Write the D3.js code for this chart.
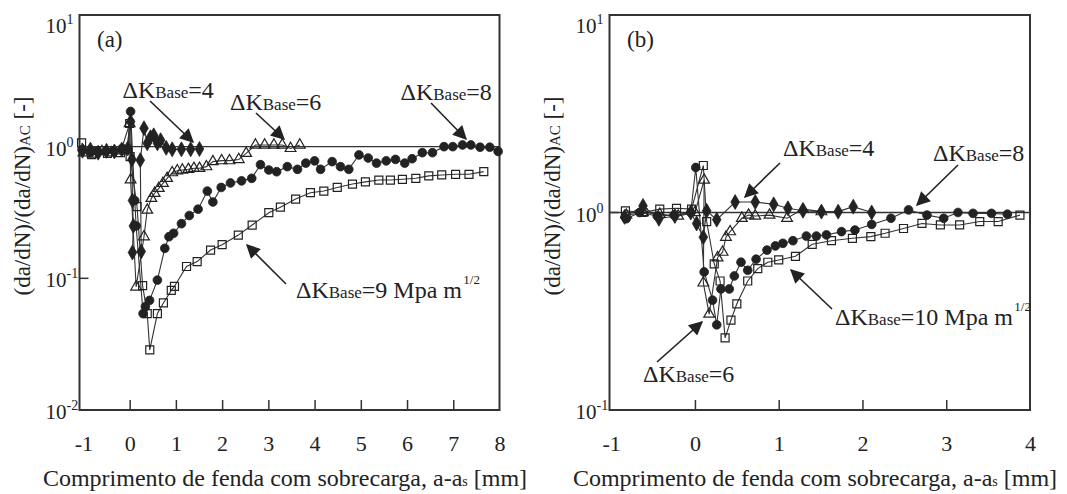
<!DOCTYPE html>
<html><head><meta charset="utf-8">
<script src="https://cdn.jsdelivr.net/npm/d3@7"></script>
<style>
body{margin:0;background:#fff}
svg{display:block}
svg text, svg tspan{font-family:'Liberation Serif','DejaVu Serif','Times New Roman',serif !important;fill:#222}
</style>
</head><body><svg id="c" width="1067" height="494" font-family="Liberation Serif, DejaVu Serif, serif"></svg>
<script>
// ---------- DATA ----------
// Panel (a): normalized crack growth rate vs crack length after overload
const xTicksA = [-1,0,1,2,3,4,5,6,7,8];
const yTicksA = [1e-2,1e-1,1,10];
const aK4 = [[-1.02,0.93],[-0.85,0.95],[-0.68,0.9],[-0.5,0.93],[-0.33,0.92],[-0.17,0.95],[-0.04,0.97],[0.02,1.55],[0.05,0.8],[0.06,0.39],[0.08,0.25],[0.06,0.157],[0.25,0.16],[0.23,0.79],[0.31,1.38],[0.38,1.06],[0.45,1.18],[0.52,1.22],[0.6,1.06],[0.67,1.12],[0.79,0.98],[0.92,0.955],[1.12,0.955],[1.32,0.955],[1.51,0.96]];
const aK6 = [[-1.0,0.9],[-0.8,0.88],[-0.6,0.92],[-0.4,0.9],[-0.2,0.93],[-0.05,0.95],[0.0,1.5],[0.02,0.56],[0.14,0.086],[0.31,0.207],[0.38,0.33],[0.47,0.405],[0.54,0.443],[0.63,0.483],[0.72,0.527],[0.81,0.575],[0.92,0.635],[1.03,0.657],[1.14,0.665],[1.27,0.673],[1.39,0.685],[1.51,0.685],[1.66,0.705],[1.8,0.77],[1.99,0.783],[2.16,0.783],[2.36,0.8],[2.52,0.89],[2.72,1.03],[2.92,1.03],[3.12,1.03],[3.3,1.03],[3.48,0.97],[3.68,1.03]];
const aK8 = [[-1.03,0.95],[-0.85,0.9],[-0.7,0.93],[-0.52,0.92],[-0.34,0.93],[-0.16,0.97],[-0.05,0.95],[0.02,1.85],[0.11,0.39],[0.14,0.25],[0.29,0.054],[0.34,0.061],[0.43,0.068],[0.6,0.097],[0.76,0.169],[0.85,0.207],[0.95,0.22],[1.12,0.26],[1.29,0.3],[1.48,0.335],[1.68,0.46],[1.8,0.38],[1.98,0.49],[2.18,0.53],[2.42,0.55],[2.64,0.575],[2.83,0.73],[3.01,0.665],[3.18,0.645],[3.41,0.705],[3.63,0.673],[3.81,0.75],[4.0,0.78],[4.13,0.673],[4.38,0.77],[4.56,0.705],[4.74,0.673],[4.96,0.865],[5.16,0.82],[5.34,0.75],[5.55,0.78],[5.75,0.8],[5.95,0.75],[6.11,0.81],[6.33,0.9],[6.55,0.9],[6.8,1.0],[6.99,1.0],[7.2,1.03],[7.38,1.03],[7.58,0.99],[7.79,0.99],[7.97,0.92]];
const aK9 = [[-1.04,1.07],[-0.82,0.87],[-0.48,0.89],[-0.2,0.9],[0.0,1.5],[0.01,0.84],[0.16,0.35],[0.28,0.088],[0.38,0.054],[0.435,0.0286],[0.6,0.054],[0.73,0.065],[0.9,0.081],[0.97,0.087],[1.23,0.123],[1.46,0.134],[1.75,0.164],[2.0,0.18],[2.35,0.213],[2.65,0.254],[3.01,0.315],[3.26,0.347],[3.59,0.4],[3.91,0.447],[4.2,0.46],[4.49,0.49],[4.82,0.52],[5.1,0.54],[5.39,0.558],[5.64,0.558],[5.9,0.565],[6.19,0.575],[6.47,0.6],[6.75,0.61],[7.05,0.617],[7.34,0.617],[7.66,0.646]];

// Panel (b)
const xTicksB = [-1,0,1,2,3,4];
const yTicksB = [1e-1,1,10];
const bK4 = [[-0.84,0.95],[-0.62,1.08],[-0.43,0.93],[-0.24,0.96],[-0.05,1.0],[0.02,0.88],[0.1,0.75],[0.14,1.02],[0.26,0.92],[0.48,1.13],[0.72,1.13],[0.94,1.1],[1.11,1.05],[1.29,1.02],[1.51,1.01],[1.71,1.01],[1.89,1.07],[2.11,1.0]];
const bK6 = [[-0.82,0.97],[-0.62,1.0],[-0.42,0.98],[-0.2,0.96],[0.0,1.0],[0.11,1.46],[0.1,0.44],[0.17,0.306],[0.27,0.59],[0.33,0.63],[0.37,0.75],[0.42,0.8],[0.56,0.935],[0.64,0.97],[0.72,0.96],[0.89,0.97],[1.1,0.935],[1.29,1.04],[1.51,1.01]];
const bK8 = [[-0.82,0.93],[-0.66,1.0],[-0.45,0.96],[-0.25,0.97],[-0.05,1.0],[0.01,1.69],[0.11,0.5],[0.21,0.36],[0.26,0.27],[0.31,0.41],[0.41,0.41],[0.47,0.477],[0.55,0.56],[0.63,0.51],[0.73,0.58],[0.86,0.645],[0.96,0.677],[1.05,0.698],[1.17,0.72],[1.33,0.76],[1.45,0.76],[1.57,0.77],[1.75,0.8],[1.91,0.815],[2.11,0.87],[2.34,0.935],[2.55,1.03],[2.77,0.97],[2.97,0.935],[3.14,1.0],[3.32,0.99],[3.54,0.99],[3.73,0.98]];
const bK10 = [[-0.83,1.02],[-0.62,1.0],[-0.42,1.04],[-0.22,1.05],[-0.04,1.04],[0.1,1.73],[0.14,0.9],[0.23,0.55],[0.3,0.45],[0.36,0.232],[0.43,0.285],[0.5,0.345],[0.63,0.45],[0.75,0.52],[0.87,0.56],[1.0,0.575],[1.2,0.6],[1.4,0.69],[1.63,0.72],[1.88,0.74],[2.1,0.755],[2.27,0.785],[2.49,0.83],[2.71,0.88],[2.93,0.865],[3.16,0.865],[3.4,0.9],[3.62,0.9],[3.88,0.97]];

const xTitleMain = "Comprimento de fenda com sobrecarga, a-a";
const xTitleSub = "s";
const xTitleEnd = " [mm]";
const yTitleMain = "(da/dN)/(da/dN)";
const yTitleSub = "AC";
const yTitleEnd = " [-]";

// ---------- LAYOUT ----------
const FONT = "'Liberation Serif','DejaVu Serif','Times New Roman',serif";
const panels = [
  {label:"(a)", labelPos:[97,47], left:79.5, right:499.5, top:15, bottom:410,
   xDomain:[-1.085,8], yDomain:[0.01,10], xTicks:xTicksA, yTicks:yTicksA,
   yTitleX:30, yTitleY:196, xTitleCx:285,
   series:[{d:aK9,m:"square"},{d:aK6,m:"triangle"},{d:aK8,m:"circle"},{d:aK4,m:"diamond"}],
   notes:[
     {x:122.5,y:98,t:"=4",ar:[150,101,193,142]},
     {x:230,y:110,t:"=6",ar:[256,113,284,139]},
     {x:400.5,y:100,t:"=8",ar:[431,103,466,139]},
     {x:296,y:298,t:"=9 Mpa m",sup:"1/2",ar:[286,284,247,245]}
   ]},
  {label:"(b)", labelPos:[627,47], left:609.5, right:1030, top:15, bottom:410,
   xDomain:[-1.02,4], yDomain:[0.1,10], xTicks:xTicksB, yTicks:yTicksB,
   yTitleX:560, yTitleY:196, xTitleCx:815,
   series:[{d:bK10,m:"square"},{d:bK6,m:"triangle"},{d:bK8,m:"circle"},{d:bK4,m:"diamond"}],
   notes:[
     {x:783,y:156,t:"=4",ar:[780,163,745,197]},
     {x:933,y:161,t:"=8",ar:[958,165,917,205]},
     {x:835,y:325,t:"=10 Mpa m",sup:"1/2",ar:[832,309,791,270]},
     {x:643,y:382,t:"=6",ar:[657,362,702,322]}
   ]}
];

const svg = d3.select("#c");
const ink = "#222";
svg.append("defs").append("marker")
  .attr("id","ah").attr("viewBox","0 0 10 10").attr("refX",9).attr("refY",5)
  .attr("markerUnits","userSpaceOnUse").attr("markerWidth",18).attr("markerHeight",14)
  .attr("orient","auto")
  .append("path").attr("d","M0,0 L10,5 L0,10 Z").attr("fill",ink);

const sym = {
  circle: d3.symbol().type(d3.symbolCircle).size(60),
  square: d3.symbol().type(d3.symbolSquare).size(64),
  triangle: d3.symbol().type(d3.symbolTriangle).size(50),
  diamond: d3.symbol().type(d3.symbolDiamond).size(64)
};
const filled = {circle:true, diamond:true, square:false, triangle:false};

function txt(sel, x, y, size){
  return sel.append("text").attr("x",x).attr("y",y)
    .attr("font-family",FONT).style("font-family",FONT).style("font-size",size+"px");
}

panels.forEach(p => {
  const x = d3.scaleLinear().domain(p.xDomain).range([p.left,p.right]);
  const y = d3.scaleLog().domain(p.yDomain).range([p.bottom,p.top]);
  const g = svg.append("g");

  g.append("line").attr("x1",p.left).attr("x2",p.right)
    .attr("y1",y(1)).attr("y2",y(1)).attr("stroke","#333").attr("stroke-width",1.3);

  const xa = d3.axisBottom(x).tickValues(p.xTicks).tickSize(-10).tickFormat(d=>d);
  const gx = g.append("g").attr("transform",`translate(0,${p.bottom})`).call(xa)
    .attr("font-family",FONT);
  gx.select(".domain").remove();
  gx.selectAll(".tick line").attr("stroke","#333").attr("stroke-width",1.5)
    .attr("opacity",(d)=> (d===p.xTicks[0]||d===p.xTicks[p.xTicks.length-1])?0:1);
  gx.selectAll(".tick text").attr("dy",null).attr("y",41)
    .style("font-size","22px").style("font-family",FONT).attr("fill",ink);

  p.yTicks.slice(1,-1).forEach(v=>{
    g.append("line").attr("x1",p.left).attr("x2",p.left+9)
      .attr("y1",y(v)).attr("y2",y(v)).attr("stroke","#333").attr("stroke-width",1.5);
  });
  p.yTicks.forEach(v=>{
    const e = Math.round(Math.log10(v));
    const t = txt(g, p.left-34, Math.max(y(v)+9,33), 21);
    t.append("tspan").text("10");
    t.append("tspan").text(e<0? "-"+(-e) : String(e)).style("font-size","14px").attr("dy",-9);
  });

  g.append("rect").attr("x",p.left).attr("y",p.top)
    .attr("width",p.right-p.left).attr("height",p.bottom-p.top)
    .attr("fill","none").attr("stroke","#333").attr("stroke-width",2);

  const line = d3.line().x(d=>x(d[0])).y(d=>y(d[1]));
  p.series.forEach(s=>{
    g.append("path").datum(s.d).attr("d",line).attr("fill","none")
      .attr("stroke","#333").attr("stroke-width",1.1);
  });
  p.series.forEach(s=>{
    g.selectAll(null).data(s.d).join("path")
      .attr("transform",d=>`translate(${x(d[0])},${y(d[1])})`)
      .attr("d",sym[s.m]())
      .attr("fill",filled[s.m]?ink:"none")
      .attr("stroke",ink).attr("stroke-width",filled[s.m]?0.8:1.2);
  });

  txt(g, p.labelPos[0], p.labelPos[1], 23).text(p.label);

  p.notes.forEach(n=>{
    g.append("line").attr("x1",n.ar[0]).attr("y1",n.ar[1]).attr("x2",n.ar[2]).attr("y2",n.ar[3])
      .attr("stroke",ink).attr("stroke-width",1.6).attr("marker-end","url(#ah)");
    const t = txt(g, n.x, n.y, 24);
    t.append("tspan").text("\u0394K");
    t.append("tspan").text("Base").style("font-size","17px");
    t.append("tspan").text(n.t);
    if(n.sup){
      const bb = t.node().getBBox();
      txt(g, bb.x + bb.width + 1, n.y - 14, 13).text(n.sup);
    }
  });

  const xt = txt(g, p.xTitleCx, 486, 24).attr("text-anchor","middle");
  xt.append("tspan").text(xTitleMain);
  xt.append("tspan").text(xTitleSub).style("font-size","14px");
  xt.append("tspan").text(xTitleEnd);

  const yt = g.append("text").attr("transform",`translate(${p.yTitleX},${p.yTitleY}) rotate(-90)`)
    .attr("text-anchor","middle").attr("font-family",FONT).style("font-family",FONT).style("font-size","23px");
  yt.append("tspan").text(yTitleMain);
  yt.append("tspan").text(yTitleSub).style("font-size","15px");
  yt.append("tspan").text(yTitleEnd);
});
</script>
</body></html>
